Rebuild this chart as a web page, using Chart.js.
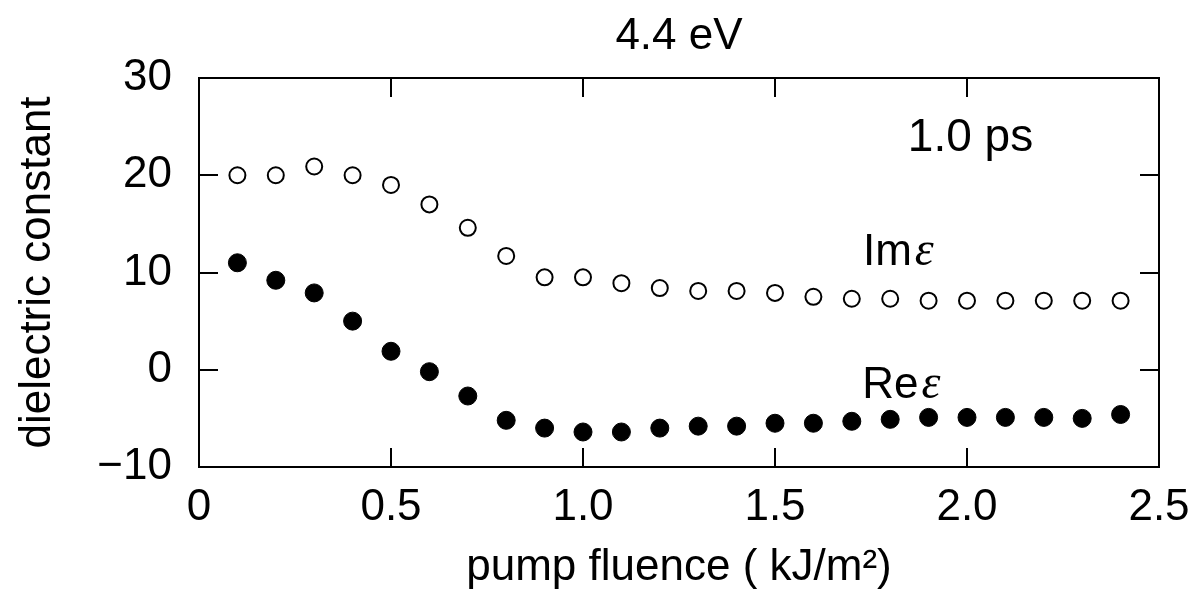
<!DOCTYPE html>
<html><head><meta charset="utf-8">
<script src="https://cdn.jsdelivr.net/npm/chart.js@4"></script>
<style>html,body{margin:0;padding:0;background:#fff}#wrap{width:1192px;height:595px}</style>
</head><body><div id="wrap"><canvas id="c" width="1192" height="595"></canvas></div>
<script>
// ---- data ----
const fluence = [0.1,0.2,0.3,0.4,0.5,0.6,0.7,0.8,0.9,1.0,1.1,1.2,1.3,1.4,1.5,1.6,1.7,1.8,1.9,2.0,2.1,2.2,2.3,2.4];
const imEps   = [20.0,20.0,20.9,20.0,19.0,17.0,14.6,11.7,9.5,9.5,8.9,8.4,8.1,8.1,7.9,7.5,7.3,7.3,7.1,7.1,7.1,7.1,7.1,7.1];
const reEps   = [11.0,9.2,7.9,5.0,1.9,-0.2,-2.7,-5.2,-6.0,-6.4,-6.4,-6.0,-5.8,-5.8,-5.5,-5.5,-5.3,-5.1,-4.9,-4.9,-4.9,-4.9,-5.0,-4.6];
const xTicks  = [0,0.5,1.0,1.5,2.0,2.5];
const yTicks  = [-10,0,10,20,30];
const chartTitle = '4.4 eV';
const xTitle = 'pump fluence ( kJ/m\u00B2)';
const yTitle = 'dielectric constant';
const noteTime = '1.0 ps';
const imLabel = 'Im';
const reLabel = 'Re';
const epsSym = '\u03B5';

const SANS = '"Liberation Sans", Arial, Helvetica, sans-serif';

const framePlugin = {
  id: 'frame',
  beforeDatasetsDraw(chart) {
    const {ctx, chartArea: a, scales: {x, y}} = chart;
    ctx.save();
    ctx.strokeStyle = '#000';
    ctx.lineWidth = 2;
    ctx.strokeRect(a.left, a.top, a.right - a.left, a.bottom - a.top);
    const L = 19;
    ctx.beginPath();
    xTicks.forEach(v => {
      if (v <= x.min || v >= x.max) return;
      const px = Math.round(x.getPixelForValue(v));
      ctx.moveTo(px, a.bottom); ctx.lineTo(px, a.bottom - L);
      ctx.moveTo(px, a.top); ctx.lineTo(px, a.top + L);
    });
    yTicks.forEach(v => {
      if (v <= y.min || v >= y.max) return;
      const py = Math.round(y.getPixelForValue(v));
      ctx.moveTo(a.left, py); ctx.lineTo(a.left + L, py);
      ctx.moveTo(a.right, py); ctx.lineTo(a.right - L, py);
    });
    ctx.stroke();
    ctx.restore();
  }
};

const notesPlugin = {
  id: 'notes',
  afterDatasetsDraw(chart) {
    const {ctx, scales: {x, y}} = chart;
    ctx.save();
    ctx.fillStyle = '#000';
    ctx.textAlign = 'left';
    ctx.textBaseline = 'alphabetic';
    ctx.font = '46px ' + SANS;
    ctx.fillText(noteTime, x.getPixelForValue(1.846), y.getPixelForValue(22.5));
    const pair = (txt, xv, yv) => {
      const px = x.getPixelForValue(xv), py = y.getPixelForValue(yv);
      ctx.font = '44px ' + SANS;
      ctx.fillText(txt, px, py);
      const w = ctx.measureText(txt).width;
      ctx.font = 'italic 48px "Liberation Serif", "Times New Roman", serif';
      ctx.fillText(epsSym, px + w + 3, py);
    };
    pair(imLabel, 1.729, 10.8);
    pair(reLabel, 1.727, -2.95);
    ctx.restore();
  }
};

new Chart(document.getElementById('c'), {
  type: 'scatter',
  data: {
    datasets: [
      {
        label: 'Im',
        data: fluence.map((f, i) => ({x: f, y: imEps[i]})),
        pointStyle: 'circle',
        pointRadius: 8,
        pointBorderWidth: 2,
        pointBackgroundColor: '#fff',
        pointBorderColor: '#000',
        showLine: false
      },
      {
        label: 'Re',
        data: fluence.map((f, i) => ({x: f, y: reEps[i]})),
        pointStyle: 'circle',
        pointRadius: 9,
        pointBorderWidth: 1,
        pointBackgroundColor: '#000',
        pointBorderColor: '#000',
        showLine: false
      }
    ]
  },
  options: {
    responsive: false,
    animation: false,
    devicePixelRatio: 1,
    layout: {padding: {top: 0, right: 33, left: 0, bottom: 0}},
    plugins: {
      legend: {display: false},
      tooltip: {enabled: false},
      title: {
        display: true,
        text: chartTitle,
        fullSize: false,
        color: '#000',
        font: {family: SANS, size: 44, weight: 'normal', lineHeight: 1},
        padding: {top: 15, bottom: 19}
      }
    },
    scales: {
      x: {
        type: 'linear',
        min: 0, max: 2.5,
        afterBuildTicks: s => { s.ticks = xTicks.map(v => ({value: v})); },
        afterFit: s => { s.height = 128; s.paddingLeft = 0; s.paddingRight = 0; },
        grid: {display: false, drawTicks: false},
        border: {display: false},
        ticks: {
          autoSkip: false,
          maxRotation: 0,
          padding: 14,
          color: '#000',
          font: {family: SANS, size: 44},
          callback: v => v === 0 ? '0' : Number(v).toFixed(1)
        },
        title: {
          display: true,
          text: xTitle,
          color: '#000',
          font: {family: SANS, size: 44, lineHeight: 1},
          padding: {top: 0, bottom: 5}
        }
      },
      y: {
        type: 'linear',
        min: -10, max: 30,
        afterBuildTicks: s => { s.ticks = yTicks.map(v => ({value: v})); },
        afterFit: s => { s.width = 199; s.paddingTop = 0; s.paddingBottom = 0; },
        grid: {display: false, drawTicks: false},
        border: {display: false},
        ticks: {
          padding: 27,
          color: '#000',
          font: {family: SANS, size: 44},
          callback: v => String(v).replace('-', '\u2212')
        },
        title: {
          display: true,
          text: yTitle,
          color: '#000',
          font: {family: SANS, size: 44, lineHeight: 1},
          padding: {top: 16, bottom: 0}
        }
      }
    }
  },
  plugins: [framePlugin, notesPlugin]
});
</script>
</body></html>
